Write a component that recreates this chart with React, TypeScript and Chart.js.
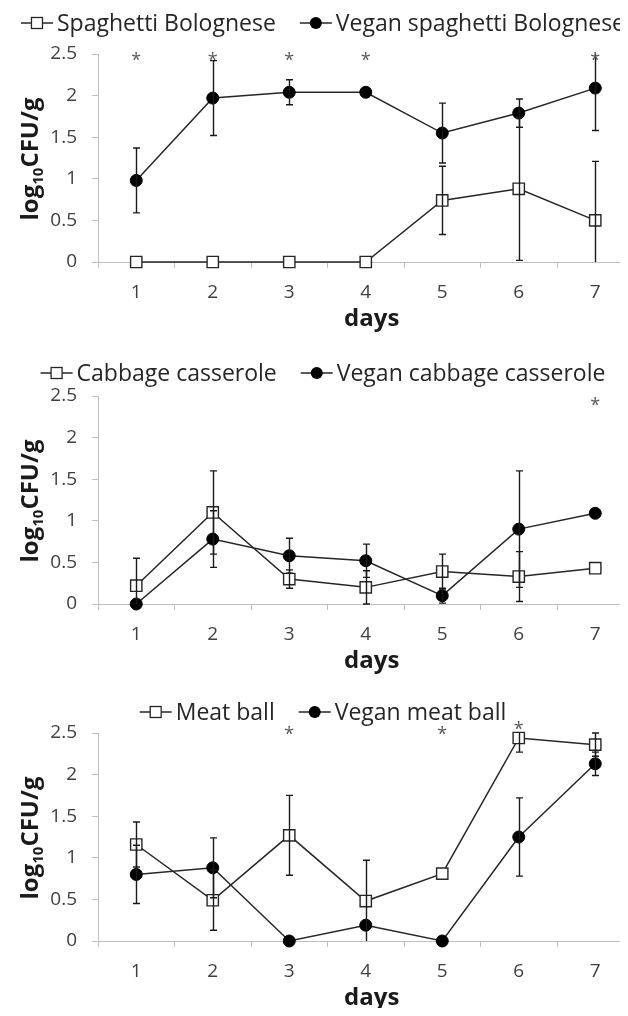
import React, { useEffect, useRef } from 'react';
import { Chart, registerables } from 'chart.js';

Chart.register(...registerables);

// ---------- data ----------
const days = ['1', '2', '3', '4', '5', '6', '7'];
const yTickLabels = ['0', '0.5', '1', '1.5', '2', '2.5'];

// Panel 1
const spagName = 'Spaghetti Bolognese';
const spagValues = [0, 0, 0, 0, 0.74, 0.88, 0.5];
const spagErrors = [0, 0, 0, 0, 0.41, 0.86, 0.71];
const veganSpagName = 'Vegan spaghetti Bolognese';
const veganSpagValues = [0.98, 1.97, 2.04, 2.04, 1.55, 1.79, 2.09];
const veganSpagErrors = [0.39, 0.45, 0.15, 0, 0.36, 0.17, 0.51];
const spagStarDays = ['1', '2', '3', '4', '7'];
const spagStarLevels = [2.47, 2.47, 2.47, 2.47, 2.47];

// Panel 2
const cabbageName = 'Cabbage casserole';
const cabbageValues = [0.22, 1.1, 0.3, 0.2, 0.39, 0.33, 0.43];
const cabbageErrors = [0.33, 0.5, 0.11, 0.2, 0.21, 0.3, 0];
const veganCabbageName = 'Vegan cabbage casserole';
const veganCabbageValues = [0, 0.78, 0.58, 0.52, 0.1, 0.9, 1.09];
const veganCabbageErrors = [0, 0.34, 0.21, 0.2, 0.09, 0.7, 0];
const cabbageStarDays = ['7'];
const cabbageStarLevels = [2.44];

// Panel 3
const meatName = 'Meat ball';
const meatValues = [1.16, 0.49, 1.27, 0.48, 0.81, 2.44, 2.36];
const meatErrors = [0.27, 0.36, 0.48, 0.49, 0, 0.17, 0.14];
const veganMeatName = 'Vegan meat ball';
const veganMeatValues = [0.8, 0.88, 0, 0.19, 0, 1.25, 2.13];
const veganMeatErrors = [0.35, 0.36, 0, 0, 0, 0.47, 0.14];
const meatStarDays = ['3', '5', '6'];
const meatStarLevels = [2.53, 2.53, 2.59];

// ---------- styles ----------
const FONT = "'Open Sans', 'Noto Sans', sans-serif";
const LINE = '#262626';
const AXIS = '#bfbfbf';
const TEXT = '#404040';

// ---------- plugins ----------
const errorBarPlugin = {
  id: 'errorBars',
  afterDatasetsDraw(chart: any) {
    const { ctx, chartArea, scales } = chart;
    const x = scales.x, y = scales.y;
    ctx.save();
    ctx.strokeStyle = '#1a1a1a';
    ctx.lineWidth = 1.4;
    chart.data.datasets.forEach((ds: any) => {
      const errs: number[] = ds.errors;
      if (!errs) return;
      ds.data.forEach((v: number, i: number) => {
        const e = errs[i];
        if (!e) return;
        const px = Math.round(x.getPixelForValue(i)) + 0.5;
        const yHi = y.getPixelForValue(v + e);
        const yLo = y.getPixelForValue(v - e);
        const t = Math.max(yHi, chartArea.top);
        const b = Math.min(yLo, chartArea.bottom);
        ctx.beginPath();
        ctx.moveTo(px, t);
        ctx.lineTo(px, b);
        const cap = 3.5;
        if (yHi >= chartArea.top - 0.5) {
          ctx.moveTo(px - cap, yHi);
          ctx.lineTo(px + cap, yHi);
        }
        if (yLo <= chartArea.bottom + 0.5) {
          ctx.moveTo(px - cap, yLo);
          ctx.lineTo(px + cap, yLo);
        }
        ctx.stroke();
      });
    });
    ctx.restore();
  },
};

const starPlugin = {
  id: 'stars',
  afterDatasetsDraw(chart: any, _args: any, opts: any) {
    const { ctx, scales } = chart;
    const size = 18;
    ctx.save();
    ctx.fillStyle = '#595959';
    ctx.font = `${size}px ${FONT}`;
    ctx.textAlign = 'center';
    ctx.textBaseline = 'alphabetic';
    (opts.days || []).forEach((d: string, i: number) => {
      const px = scales.x.getPixelForValue(days.indexOf(d));
      const py = scales.y.getPixelForValue(opts.levels[i]);
      ctx.fillText('*', px, py + size * 0.55);
    });
    ctx.restore();
  },
};

const legendPlugin = {
  id: 'lineLegend',
  afterDraw(chart: any, _args: any, opts: any) {
    const { ctx, width } = chart;
    const size = 23;
    const lineLen = 32;
    const gapSym = 4;
    const gapItem = 24;
    ctx.save();
    ctx.font = `${size}px ${FONT}`;
    const items = chart.data.datasets.map((ds: any) => ({
      ds,
      w: lineLen + gapSym + ctx.measureText(ds.label).width,
    }));
    const total = items.reduce((s: number, it: any) => s + it.w, 0) + gapItem * (items.length - 1);
    let x0 = width / 2 - total / 2;
    const y = opts.y;
    items.forEach((it: any) => {
      const ds = it.ds;
      ctx.strokeStyle = LINE;
      ctx.lineWidth = 1.5;
      ctx.beginPath();
      ctx.moveTo(x0, y);
      ctx.lineTo(x0 + lineLen, y);
      ctx.stroke();
      const mx = x0 + lineLen / 2;
      if (ds.pointStyle === 'rect') {
        ctx.fillStyle = '#fff';
        ctx.fillRect(mx - 5.5, y - 5.5, 11, 11);
        ctx.lineWidth = 1.3;
        ctx.strokeRect(mx - 5.5, y - 5.5, 11, 11);
      } else {
        ctx.fillStyle = '#000';
        ctx.beginPath();
        ctx.arc(mx, y, 6, 0, Math.PI * 2);
        ctx.fill();
      }
      ctx.fillStyle = '#262626';
      ctx.textAlign = 'left';
      ctx.textBaseline = 'alphabetic';
      ctx.fillText(ds.label, x0 + lineLen + gapSym, y + size * 0.357);
      x0 += it.w + gapItem;
    });
    ctx.restore();
  },
};

const titlePlugin = {
  id: 'axisTitles',
  afterDraw(chart: any) {
    const { ctx, chartArea } = chart;
    ctx.save();
    ctx.fillStyle = '#1a1a1a';
    // x title
    ctx.font = `bold 24px ${FONT}`;
    ctx.textAlign = 'center';
    ctx.textBaseline = 'middle';
    ctx.fillText('days', (chartArea.left + chartArea.right) / 2 + 6, chartArea.bottom + 57);
    // y title with subscript
    const main = `bold 24px ${FONT}`;
    const sub = `bold 15px ${FONT}`;
    ctx.font = main;
    const w1 = ctx.measureText('log').width;
    const w3 = ctx.measureText('CFU/g').width;
    ctx.font = sub;
    const w2 = ctx.measureText('10').width;
    const total = w1 + w2 + w3;
    ctx.translate(30 + 8, (chartArea.top + chartArea.bottom) / 2 + 1);
    ctx.rotate(-Math.PI / 2);
    ctx.textAlign = 'left';
    ctx.textBaseline = 'alphabetic';
    let xx = -total / 2;
    ctx.font = main;
    ctx.fillText('log', xx, 0);
    xx += w1;
    ctx.font = sub;
    ctx.fillText('10', xx, 5);
    xx += w2;
    ctx.font = main;
    ctx.fillText('CFU/g', xx, 0);
    ctx.restore();
  },
};

// ---------- chart panel ----------
type PanelProps = {
  top: number;
  legendY: number;
  nameA: string;
  valuesA: number[];
  errorsA: number[];
  nameB: string;
  valuesB: number[];
  errorsB: number[];
  starDays: string[];
  starLevels: number[];
};

const CW = 646;
const CH = 340;

function Panel(p: PanelProps) {
  const ref = useRef<HTMLCanvasElement>(null);
  useEffect(() => {
    const chart = new Chart(ref.current as HTMLCanvasElement, {
      type: 'line',
      data: {
        labels: days,
        datasets: [
          {
            label: p.nameA,
            data: p.valuesA,
            errors: p.errorsA,
            borderColor: LINE,
            borderWidth: 1.5,
            pointStyle: 'rect',
            pointRadius: 8,
            pointBackgroundColor: '#ffffff',
            pointBorderColor: '#262626',
            pointBorderWidth: 1.4,
            clip: false,
            tension: 0,
          } as any,
          {
            label: p.nameB,
            data: p.valuesB,
            errors: p.errorsB,
            borderColor: LINE,
            borderWidth: 1.5,
            pointStyle: 'circle',
            pointRadius: 6,
            pointBackgroundColor: '#000000',
            pointBorderColor: '#000000',
            pointBorderWidth: 1,
            clip: false,
            tension: 0,
          } as any,
        ],
      },
      options: {
        animation: false,
        responsive: false,
        devicePixelRatio: 1,
        events: [],
        layout: { padding: { top: 56, right: 12.5, left: 0, bottom: 0 } },
        plugins: {
          legend: { display: false },
          tooltip: { enabled: false },
          stars: { days: p.starDays, levels: p.starLevels },
          lineLegend: { y: p.legendY },
        } as any,
        scales: {
          x: {
            type: 'category',
            offset: true,
            grid: {
              display: true,
              drawOnChartArea: false,
              drawTicks: true,
              tickLength: 6,
              color: AXIS,
              lineWidth: 1,
              offset: true,
            },
            border: { display: true, color: AXIS, width: 1 },
            ticks: {
              font: { family: FONT, size: 19 },
              color: TEXT,
              padding: 13,
              maxRotation: 0,
              autoSkip: false,
            },
            afterFit: (s: any) => {
              s.height = 76;
            },
          },
          y: {
            min: 0,
            max: 2.5,
            ticks: {
              stepSize: 0.5,
              callback: (_v: any, i: number) => yTickLabels[i],
              font: { family: FONT, size: 19 },
              color: TEXT,
              padding: 15,
            },
            grid: {
              display: true,
              drawOnChartArea: false,
              drawTicks: true,
              tickLength: 6,
              color: AXIS,
            },
            border: { display: true, color: AXIS, width: 1 },
            afterFit: (s: any) => {
              s.width = 98;
            },
          },
        },
      } as any,
      plugins: [errorBarPlugin, starPlugin, legendPlugin, titlePlugin],
    });
    return () => chart.destroy();
  }, []);
  return (
    <canvas
      ref={ref}
      width={CW}
      height={CH}
      style={{ position: 'absolute', left: 0, top: p.top, width: CW, height: CH }}
    />
  );
}

export default function App() {
  return (
    <div
      style={{
        position: 'relative',
        width: 628,
        height: 1016,
        overflow: 'hidden',
        margin: -8,
        background: '#ffffff',
      }}
    >
      <Panel
        top={-2}
        legendY={25}
        nameA={spagName}
        valuesA={spagValues}
        errorsA={spagErrors}
        nameB={veganSpagName}
        valuesB={veganSpagValues}
        errorsB={veganSpagErrors}
        starDays={spagStarDays}
        starLevels={spagStarLevels}
      />
      <Panel
        top={340}
        legendY={33}
        nameA={cabbageName}
        valuesA={cabbageValues}
        errorsA={cabbageErrors}
        nameB={veganCabbageName}
        valuesB={veganCabbageValues}
        errorsB={veganCabbageErrors}
        starDays={cabbageStarDays}
        starLevels={cabbageStarLevels}
      />
      <Panel
        top={677}
        legendY={35}
        nameA={meatName}
        valuesA={meatValues}
        errorsA={meatErrors}
        nameB={veganMeatName}
        valuesB={veganMeatValues}
        errorsB={veganMeatErrors}
        starDays={meatStarDays}
        starLevels={meatStarLevels}
      />
    </div>
  );
}
